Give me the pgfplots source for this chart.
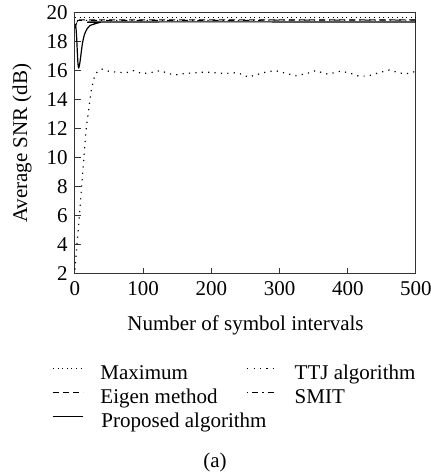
\documentclass[border=0pt]{standalone}
\usepackage{pgfplots}
\pgfplotsset{compat=1.18}
\usepackage{fontspec}
\setmainfont{Liberation Serif}

\begin{document}
\fontsize{10.5pt}{12pt}\selectfont
\begin{tikzpicture}
% keep the reference's margins
\path[use as bounding box] (-37.5pt,-100.5pt) rectangle (177.5pt,137pt);
\begin{axis}[
    at={(0,0)}, anchor=south west,
    scale only axis,
    width=170.5pt, height=130.75pt,
    xmin=0, xmax=500, ymin=2, ymax=20,
    xtick={0,100,...,500},
    ytick={2,4,...,20},
    tick align=inside,
    xtick pos=left, ytick pos=left,
    major tick length=3pt,
    axis line style={line width=0.5pt, black!80},
    every tick/.style={black!80, line width=0.5pt},
    /pgf/number format/assume math mode=true,
    ticklabel style={font=\fontsize{10.5pt}{12pt}\selectfont},
    xlabel={Number of symbol intervals},
    ylabel={Average SNR (dB)},
    xlabel style={at={(axis description cs:0.5,-0.195)}, anchor=center},
    ylabel style={at={(axis description cs:-0.155,0.5)}, anchor=center},
    legend columns=2,
    legend cell align=left,
    legend style={draw=none, fill=none, inner sep=0pt,
        at={(axis description cs:-0.0674,-0.345)}, anchor=north west,
        nodes={inner sep=0pt, text height=7.5pt, text depth=2.5pt},
        row sep=2pt,
        /tikz/every odd column/.append style={column sep=8.5pt},
        /tikz/every even column/.append style={column sep=14.5pt}},
    legend image code/.code={\path (0pt,0pt);
        \draw[#1, line width=0.45pt] (0pt,3pt) -- (15pt,3pt);},
    clip=false,
]
% Maximum
\addplot[black, line width=0.55pt, dash pattern=on 0.5pt off 1.8pt] coordinates {
(0,19.65) (500,19.65)};
\addlegendentry{Maximum}
% TTJ algorithm
\addplot[black, line width=0.6pt, dash pattern=on 0.6pt off 2.6pt] coordinates {
(0,2.3) (2,3.5) (5,5.2) (8,7) (10,8.2) (13,10) (16,11.8) (20,13.3) (24,14.7)
(28,15.5) (33,15.95) (40,16.1) (50,15.95) (60,15.9) (75,15.85) (86,16.0)
(98,15.8) (110,15.85) (125,16.0) (137,15.8) (147,15.7) (160,15.8) (175,15.85)
(191,15.9) (205,15.85) (221,15.8) (235,15.85) (245,15.75) (254,15.55)
(265,15.7) (280,15.9) (294,16.0) (310,15.8) (324,15.65) (340,15.8) (353,16.0)
(368,15.77) (380,15.85) (390,15.97) (405,15.8) (416,15.62) (429,15.62)
(445,15.85) (461,16.04) (475,15.85) (485,15.77) (500,15.95)};
\addlegendentry{TTJ algorithm}
% Eigen method
\addplot[black, line width=0.5pt, dash pattern=on 3pt off 2pt] coordinates {
(0,18.9) (3,19.4) (6,19.5) (500,19.5)};
\addlegendentry{Eigen method}
% SMIT
\addplot[black, line width=0.5pt, dash pattern=on 0.6pt off 2pt on 3pt off 2pt] coordinates {
(0,19.0) (4,19.45) (500,19.48)};
\addlegendentry{SMIT}
% Proposed algorithm
\addplot[black, line width=0.6pt, smooth] coordinates {
(0.5,19.2) (1.5,18.9) (2.5,18.2) (3.5,17.2) (4.5,16.4) (5.5,16.2) (7,16.5) (9,17.2)
(11,17.9) (14,18.5) (18,18.9) (22,19.1) (28,19.2) (35,19.3) (50,19.35) (500,19.35)};
\addlegendentry{\makebox[0pt][l]{Proposed algorithm}}
\end{axis}
\node at (70pt,-94pt) {(a)};
\end{tikzpicture}
\end{document}
